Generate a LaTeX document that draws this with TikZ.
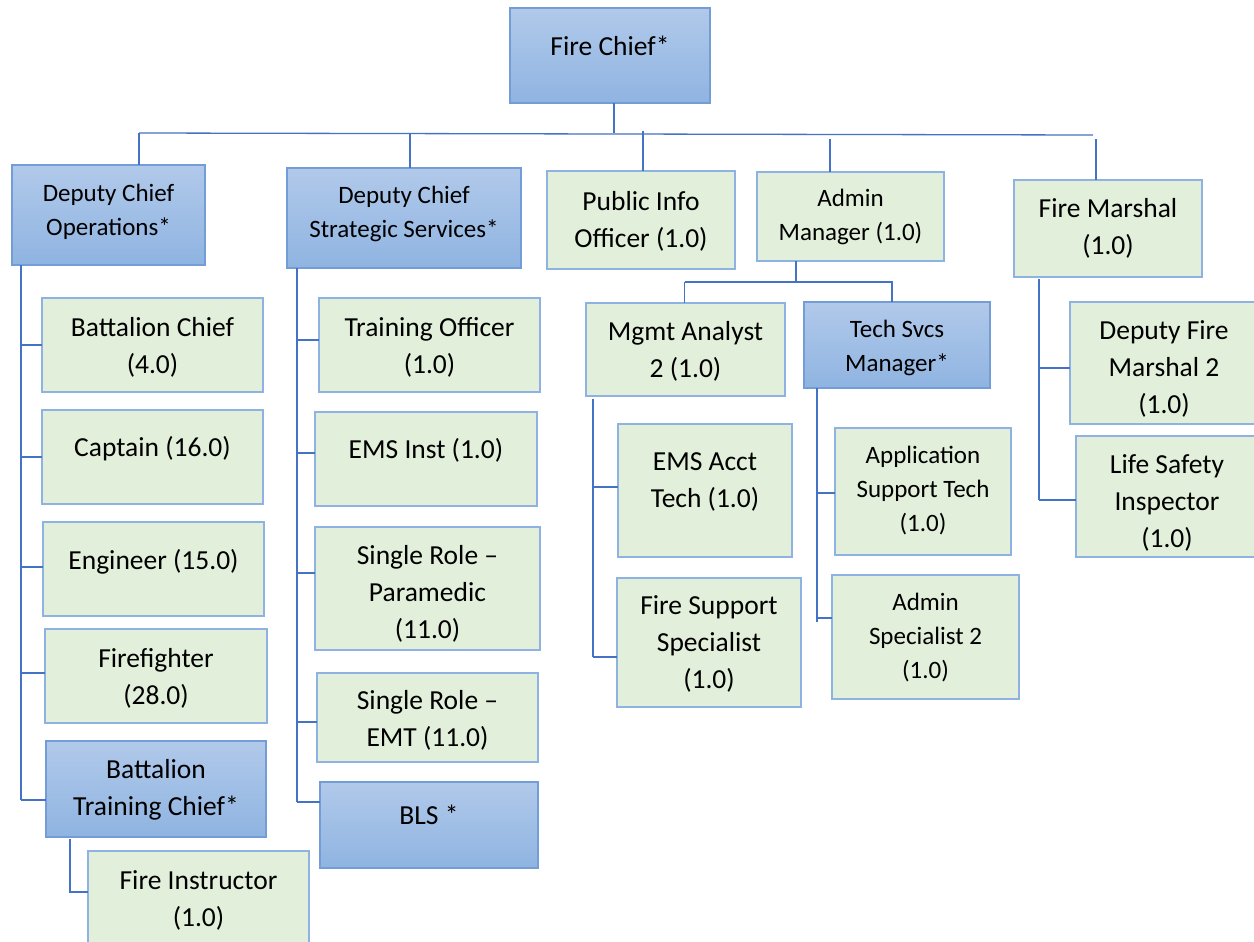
\documentclass[tikz,border=0pt]{standalone}
\usepackage{fontspec}
\setmainfont{Carlito}
\definecolor{linkblue}{RGB}{68,114,196}
\definecolor{blueedge}{RGB}{116,157,216}
\definecolor{greenedge}{RGB}{142,178,226}
\definecolor{greenfill}{RGB}{226,239,218}
\definecolor{bluetop}{RGB}{177,201,234}
\definecolor{bluebot}{RGB}{143,180,225}

% box with its own position and a separately placed label
% #1 style, #2 name, #3 x1, #4 y1, #5 x2, #6 y2, #7 label centre y, #8 label
\newcommand{\orgbox}[8]{%
  \node[#1, minimum width={#5-#3}, minimum height={#6-#4}] (#2)
    at ({(#3+#5)/2},{(#4+#6)/2}) {};
  \node[#1text] at ({(#3+#5)/2},{#7+3}) {#8};
}
% horizontal tie from a box's left side to a vertical spine
\newcommand{\branch}[3]{%
  \draw[link] (#1.west) ++(0,#2) coordinate (br) -- (br -| #3);
}

\tikzset{
  link/.style={draw=linkblue, line width=1.3pt},
  bluebox/.style={draw=blueedge, line width=1.8pt, top color=bluetop,
    bottom color=bluebot, inner sep=0pt, outer sep=0pt},
  greenbox/.style={draw=greenedge, line width=1.8pt, fill=greenfill,
    inner sep=0pt, outer sep=0pt},
  big/.style={font=\fontsize{27.5}{37}\selectfont, align=center, inner sep=0pt},
  small/.style={font=\fontsize{25}{34}\selectfont, align=center, inner sep=0pt},
  blueboxtext/.style={big},
  greenboxtext/.style={big},
  blueboxsmtext/.style={small},
  greenboxsmtext/.style={small},
  blueboxsm/.style={bluebox},
  greenboxsm/.style={greenbox},
}

\begin{document}
\begin{tikzpicture}[x=1pt, y=-1pt]
\path[use as bounding box] (0,0) rectangle (1254,942);
\clip (0,0) rectangle (1254,942);
\fill[white] (0,0) rectangle (1254,942);

% ---- top level
\orgbox{bluebox}{chief}{510}{8}{710}{103}{43}{Fire Chief*}

% ---- second level
\orgbox{blueboxsm}{ops}{12}{165}{205}{265}{209}{Deputy Chief\\Operations*}
\orgbox{blueboxsm}{strat}{287}{168}{521}{268}{211}{Deputy Chief\\Strategic Services*}
\orgbox{greenbox}{pub}{547}{171}{735}{269}{218}{Public Info\\Officer (1.0)}
\orgbox{greenboxsm}{admin}{757}{172}{944}{261}{214}{Admin\\Manager (1.0)}
\orgbox{greenbox}{marshal}{1014}{180}{1202}{277}{225}{Fire Marshal\\(1.0)}

% ---- operations
\orgbox{greenbox}{bchief}{42}{298}{263}{392}{344}{Battalion Chief\\(4.0)}
\orgbox{greenbox}{captain}{42}{410}{263}{504}{446}{Captain (16.0)}
\orgbox{greenbox}{engineer}{43}{522}{264}{616}{559}{Engineer (15.0)}
\orgbox{greenbox}{ffighter}{45}{629}{267}{723}{675}{Firefighter\\(28.0)}
\orgbox{bluebox}{btc}{46}{741}{266}{837}{787}{Battalion\\Training Chief*}
\orgbox{greenbox}{finstr}{88}{851}{309}{960}{897}{Fire Instructor\\(1.0)}

% ---- strategic services
\orgbox{greenbox}{trainoff}{319}{298}{540}{392}{344}{Training Officer\\(1.0)}
\orgbox{greenbox}{emsinst}{315}{412}{537}{506}{447}{EMS Inst (1.0)}
\orgbox{greenbox}{param}{315}{527}{540}{650}{591}{Single Role –\\Paramedic\\(11.0)}
\orgbox{greenbox}{emt}{317}{673}{538}{762}{717}{Single Role –\\EMT (11.0)}
\orgbox{bluebox}{bls}{320}{782}{538}{868}{812}{BLS *}

% ---- admin
\orgbox{greenbox}{mgmt}{586}{303}{785}{396}{348}{Mgmt Analyst\\2 (1.0)}
\orgbox{blueboxsm}{tech}{804}{302}{990}{388}{345}{Tech Svcs\\Manager*}
\orgbox{greenbox}{emsacct}{618}{424}{792}{557}{479}{EMS Acct\\Tech (1.0)}
\orgbox{greenbox}{firesup}{617}{578}{801}{707}{641}{Fire Support\\Specialist\\(1.0)}
\orgbox{greenboxsm}{appsup}{835}{428}{1011}{555}{488}{Application\\Support Tech\\(1.0)}
\orgbox{greenboxsm}{adminspec}{832}{575}{1019}{699}{635}{Admin\\Specialist 2\\(1.0)}

% ---- fire marshal
\orgbox{greenbox}{depfm}{1070}{302}{1258}{424}{366}{Deputy Fire\\Marshal 2\\(1.0)}
\orgbox{greenbox}{lifesafe}{1076}{436}{1258}{557}{500}{Life Safety\\Inspector\\(1.0)}

% ---- connectors: chief to second level
\coordinate (busL) at (139,133);
\coordinate (busR) at (1093,135);
\draw[link] ([xshift=4pt]chief.south) -- ([xshift=4pt]chief.south |- busL);
\draw[link] (busL) -- (busR);
\draw[link] (busL) -- (busL |- ops.north);
\coordinate (dStrat) at (410,133);
\draw[link] (dStrat) -- (dStrat |- strat.north);
\coordinate (dPub) at (643,131);
\draw[link] (dPub) -- (dPub |- pub.north);
\coordinate (dAdmin) at (830,139);
\draw[link] (dAdmin) -- (dAdmin |- admin.north);
\coordinate (dMarshal) at (1096,139);
\draw[link] (dMarshal) -- (dMarshal |- marshal.north);

% ---- admin manager to its two reports
\coordinate (subbus) at (796,282);
\draw[link] (subbus |- admin.south) -- (subbus);
\draw[link] (subbus -| mgmt.north) ++(-1,0) coordinate (sbL) -- (sbL |- mgmt.north);
\coordinate (sbR) at (892,282);
\draw[link] (sbL) -- (sbR) -- (sbR |- tech.north);

% ---- operations spine
\coordinate (sOps) at (21,265);
\coordinate (sOpsEnd) at (21,800);
\draw[link] (sOps) -- (sOpsEnd);
\branch{bchief}{0}{sOps}
\branch{captain}{0}{sOps}
\branch{engineer}{-2}{sOps}
\branch{ffighter}{-3}{sOps}
\draw[link] (sOpsEnd) -- (sOpsEnd -| btc.west);

% ---- battalion training chief to fire instructor
\coordinate (sBtc) at (70,839);
\coordinate (sBtcEnd) at (70,892);
\draw[link] (sBtc) -- (sBtcEnd) -- (sBtcEnd -| finstr.west);

% ---- strategic services spine
\coordinate (sStrat) at (297,268);
\coordinate (sStratEnd) at (297,802);
\draw[link] (sStrat) -- (sStratEnd);
\branch{trainoff}{-5}{sStrat}
\branch{emsinst}{-6}{sStrat}
\branch{param}{-15.5}{sStrat}
\branch{emt}{4.5}{sStrat}
\draw[link] (sStratEnd) -- (sStratEnd -| bls.west);

% ---- management analyst spine
\coordinate (sMgmt) at (593,399);
\coordinate (sMgmtEnd) at (593,657);
\draw[link] (sMgmt) -- (sMgmtEnd);
\branch{emsacct}{-3.5}{sMgmt}
\draw[link] (sMgmtEnd) -- (sMgmtEnd -| firesup.west);

% ---- tech services spine
\coordinate (sTech) at (817,388);
\coordinate (sTechEnd) at (817,622);
\draw[link] (sTech) -- (sTechEnd);
\branch{appsup}{1.5}{sTech}
\branch{adminspec}{-19}{sTech}

% ---- fire marshal spine
\coordinate (sMar) at (1039,279);
\coordinate (sMarEnd) at (1039,500);
\draw[link] (sMar) -- (sMarEnd);
\branch{depfm}{5}{sMar}
\draw[link] (sMarEnd) -- (sMarEnd -| lifesafe.west);
\end{tikzpicture}
\end{document}
